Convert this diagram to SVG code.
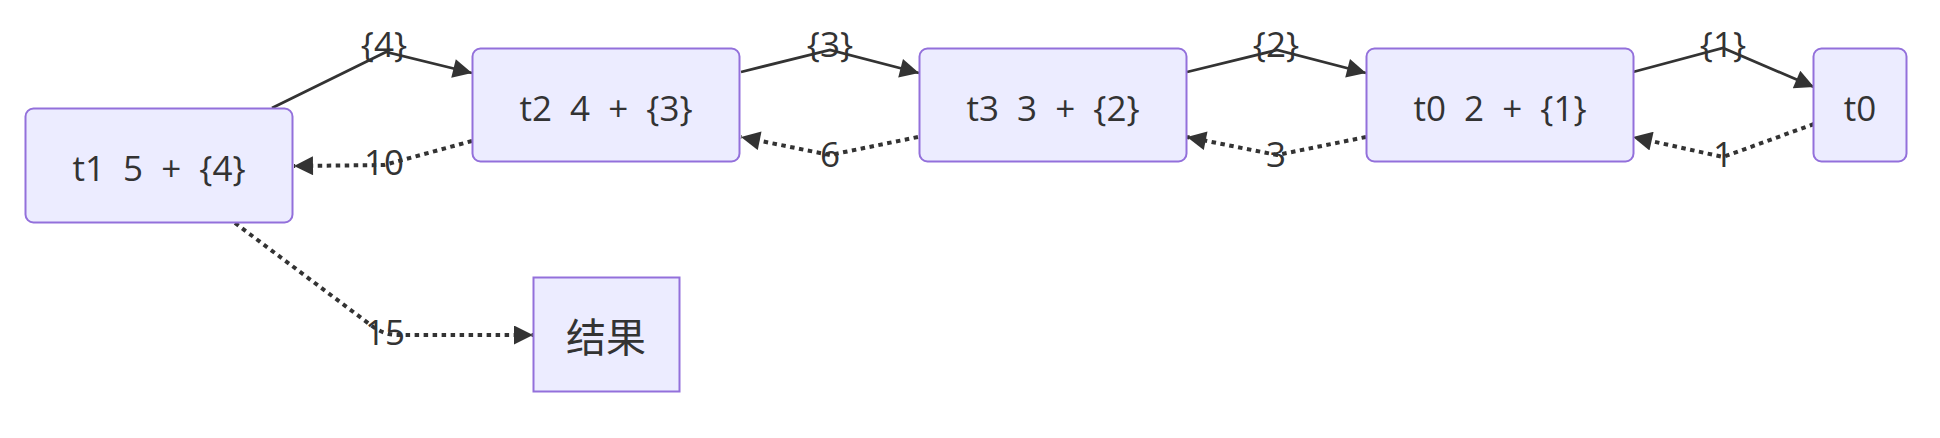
<svg xmlns="http://www.w3.org/2000/svg" width="1940" height="438" viewBox="0 0 1940 438">
<style>
.node rect{fill:#ECECFF;stroke:#9370DB;stroke-width:2}
.lbl{font-family:"Open Sans","Liberation Sans",sans-serif;font-size:35px;fill:#333;text-anchor:middle;word-spacing:9px}
.cjk{font-family:"Noto Sans CJK SC",sans-serif;font-size:40px;fill:#333;text-anchor:middle}
.e{fill:none;stroke:#333;stroke-width:2.8}
.d{fill:none;stroke:#333;stroke-width:4;stroke-dasharray:4.5 4.5}
.el{font-family:"Open Sans","Liberation Sans",sans-serif;font-size:35px;fill:#333;text-anchor:middle}
</style>
<defs>
<marker id="ah" viewBox="0 0 10 10" refX="10" refY="5" markerWidth="22" markerHeight="19" markerUnits="userSpaceOnUse" orient="auto">
<path d="M0,0 L10,5 L0,10 z" fill="#333"/>
</marker>
</defs>
<rect width="1940" height="438" fill="#ffffff"/>
<g id="connectors">
<path class="e" d="M272,108 L386,52 L472,73" marker-end="url(#ah)"/>
<path class="e" d="M741,72 L830,50 L919,73" marker-end="url(#ah)"/>
<path class="e" d="M1187,72 L1277,50 L1366,73" marker-end="url(#ah)"/>
<path class="e" d="M1633,72 L1723,48 L1814,87" marker-end="url(#ah)"/>
<path class="d" d="M472,141 L384,165 L294,166" marker-end="url(#ah)"/>
<path class="d" d="M918,137 L830,155 L741,137" marker-end="url(#ah)"/>
<path class="d" d="M1366,137 L1277,155 L1187,137" marker-end="url(#ah)"/>
<path class="d" d="M1814,124 L1723,157 L1633,137" marker-end="url(#ah)"/>
<path class="d" d="M235,223 L372,326 Q384,335 398,335 L533,335" marker-end="url(#ah)"/>
<text class="el" x="384" y="57">{4}</text>
<text class="el" x="830" y="57">{3}</text>
<text class="el" x="1276" y="57">{2}</text>
<text class="el" x="1723" y="57">{1}</text>
<text class="el" x="384" y="175">10</text>
<text class="el" x="830" y="167">6</text>
<text class="el" x="1276" y="167">3</text>
<text class="el" x="1723" y="167">1</text>
<text class="el" x="385" y="345">15</text>
</g>
<g id="t1" class="node"><rect x="25.5" y="108.5" width="267" height="114" rx="8"/><text class="lbl" x="159" y="181">t1 5 + {4}</text></g>
<g id="t2" class="node"><rect x="472.5" y="48.5" width="267" height="113" rx="8"/><text class="lbl" x="606" y="121">t2 4 + {3}</text></g>
<g id="t3" class="node"><rect x="919.5" y="48.5" width="267" height="113" rx="8"/><text class="lbl" x="1053" y="121">t3 3 + {2}</text></g>
<g id="t02" class="node"><rect x="1366.5" y="48.5" width="267" height="113" rx="8"/><text class="lbl" x="1500" y="121">t0 2 + {1}</text></g>
<g id="t0" class="node"><rect x="1813.5" y="48.5" width="93" height="113" rx="8"/><text class="lbl" x="1860" y="121">t0</text></g>
<g id="result" class="node"><rect x="533.5" y="277.5" width="146" height="114"/><text class="cjk" x="606" y="352">结果</text></g>
</svg>
